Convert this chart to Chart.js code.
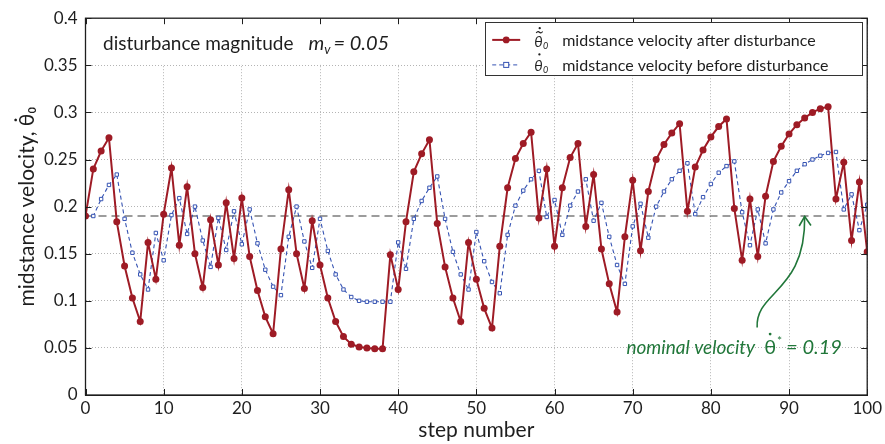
<!DOCTYPE html>
<html>
<head>
<meta charset="utf-8">
<script src="https://cdn.jsdelivr.net/npm/chart.js@4.4.1/dist/chart.umd.min.js"></script>
<style>
  html, body { margin: 0; padding: 0; background: #ffffff; }
  #wrap { width: 885px; height: 444px; }
</style>
</head>
<body>
<div id="wrap"><canvas id="c" width="885" height="444"></canvas></div>
<script>
// ---------------- data ----------------
const steps = [0,1,2,3,4,5,6,7,8,9,10,11,12,13,14,15,16,17,18,19,20,
  21,22,23,24,25,26,27,28,29,30,31,32,33,34,35,36,37,38,39,40,
  41,42,43,44,45,46,47,48,49,50,51,52,53,54,55,56,57,58,59,60,
  61,62,63,64,65,66,67,68,69,70,71,72,73,74,75,76,77,78,79,80,
  81,82,83,84,85,86,87,88,89,90,91,92,93,94,95,96,97,98,99,100];

const afterDisturbance = [0.190,0.240,0.259,0.273,0.184,0.137,0.103,0.078,0.162,0.123,
  0.192,0.241,0.159,0.221,0.150,0.114,0.186,0.138,0.204,0.145,
  0.209,0.147,0.111,0.083,0.065,0.155,0.218,0.150,0.113,0.185,
  0.138,0.103,0.078,0.062,0.054,0.051,0.050,0.049,0.049,0.149,
  0.112,0.184,0.237,0.256,0.271,0.182,0.136,0.103,0.078,0.162,
  0.123,0.092,0.071,0.158,0.220,0.251,0.267,0.279,0.188,0.240,
  0.158,0.220,0.252,0.267,0.179,0.234,0.155,0.118,0.088,0.168,
  0.228,0.153,0.216,0.250,0.266,0.278,0.288,0.195,0.242,0.260,
  0.274,0.285,0.293,0.198,0.143,0.208,0.147,0.211,0.248,0.264,
  0.277,0.287,0.294,0.300,0.304,0.306,0.208,0.247,0.164,0.226,
  0.152];

const beforeDisturbance = [0.190,0.190,0.208,0.223,0.234,0.187,0.151,0.128,0.112,0.172,
  0.143,0.191,0.209,0.171,0.200,0.164,0.136,0.188,0.154,0.195,
  0.160,0.197,0.161,0.133,0.115,0.106,0.168,0.200,0.163,0.135,
  0.187,0.153,0.128,0.112,0.104,0.100,0.099,0.099,0.099,0.099,
  0.162,0.134,0.187,0.206,0.220,0.232,0.187,0.152,0.128,0.112,
  0.173,0.142,0.120,0.108,0.170,0.201,0.217,0.229,0.238,0.189,
  0.207,0.170,0.201,0.216,0.229,0.185,0.204,0.168,0.138,0.118,
  0.179,0.203,0.167,0.200,0.216,0.229,0.238,0.246,0.192,0.210,
  0.224,0.236,0.243,0.248,0.194,0.159,0.197,0.161,0.197,0.215,
  0.227,0.238,0.245,0.250,0.254,0.257,0.258,0.197,0.213,0.175,
  0.202];

const nominalVelocity = 0.19;
const nominalSpan = [0, 100];

const xTickValues = [0,10,20,30,40,50,60,70,80,90,100];
const xTickLabels = ['0','10','20','30','40','50','60','70','80','90','100'];
const yTickValues = [0,0.05,0.1,0.15,0.2,0.25,0.3,0.35,0.4];
const yTickLabels = ['0','0.05','0.1','0.15','0.2','0.25','0.3','0.35','0.4'];

const legendAfter = 'midstance velocity after disturbance';
const legendBefore = 'midstance velocity before disturbance';
const xTitle = 'step number';
const yTitle = 'midstance velocity, \u03B8\u0307\u2080';
const noteLeft = 'disturbance magnitude';
const noteNominal = 'nominal velocity';

// ---------------- styling ----------------
const FONT = 'Lato, "Open Sans", "Noto Sans", "DejaVu Sans", sans-serif';
const RED = '#9e1b25';
const BLUE = '#3553b3';
const GREEN = '#21773a';
const INK = '#1e1e1e';

const afterPts = steps.map((s, i) => ({ x: s, y: afterDisturbance[i] }));
const beforePts = steps.map((s, i) => ({ x: s, y: beforeDisturbance[i] }));
const nominalPts = nominalSpan.map(s => ({ x: s, y: nominalVelocity }));

function drawTheta(ctx, x, base, size, tilde, color) {
  ctx.save();
  ctx.fillStyle = color; ctx.strokeStyle = color;
  ctx.textBaseline = 'alphabetic'; ctx.textAlign = 'left';
  ctx.font = `italic ${size}px ${FONT}`;
  ctx.fillText('\u03B8', x, base);
  const w = ctx.measureText('\u03B8').width;
  const cx = x + w * 0.62;
  if (tilde) {
    const ty = base - size * 0.95;
    ctx.lineWidth = 1.1;
    ctx.beginPath();
    ctx.moveTo(cx - 3.2, ty + 0.8);
    ctx.bezierCurveTo(cx - 1.8, ty - 1.6, cx - 0.4, ty - 0.4, cx, ty);
    ctx.bezierCurveTo(cx + 0.4, ty + 0.4, cx + 1.8, ty + 1.6, cx + 3.2, ty - 0.8);
    ctx.stroke();
    ctx.beginPath(); ctx.arc(cx + 0.3, base - size * 1.22, 1.15, 0, Math.PI * 2); ctx.fill();
  } else {
    ctx.beginPath(); ctx.arc(cx, base - size * 1.1, 1.15, 0, Math.PI * 2); ctx.fill();
  }
  ctx.font = `italic ${Math.round(size * 0.62)}px ${FONT}`;
  ctx.fillText('0', x + w + 0.5, base + 2.5);
  ctx.restore();
}

const decor = {
  id: 'decor',
  beforeDatasetsDraw(chart) {
    const { ctx, chartArea: a, scales: { y } } = chart;
    // the top band of the reference carries no vertical grid lines
    const yb = y.getPixelForValue(yTickValues[yTickValues.length - 2]);
    ctx.save();
    ctx.fillStyle = '#ffffff';
    ctx.fillRect(a.left + 1, a.top, a.right - a.left - 2, yb - a.top - 1);
    ctx.restore();
  },
  afterDraw(chart) {
    const { ctx, chartArea: a, scales: { x, y } } = chart;
    ctx.save();
    // box
    ctx.strokeStyle = INK; ctx.lineWidth = 1.3; ctx.setLineDash([]);
    ctx.strokeRect(a.left, a.top, a.right - a.left, a.bottom - a.top);
    // inward ticks
    ctx.lineWidth = 1;
    ctx.beginPath();
    xTickValues.forEach(v => {
      const px = Math.round(x.getPixelForValue(v)) + 0.5;
      ctx.moveTo(px, a.bottom); ctx.lineTo(px, a.bottom - 6);
      ctx.moveTo(px, a.top); ctx.lineTo(px, a.top + 6);
    });
    yTickValues.forEach(v => {
      const py = Math.round(y.getPixelForValue(v)) + 0.5;
      ctx.moveTo(a.left, py); ctx.lineTo(a.left + 6, py);
      ctx.moveTo(a.right, py); ctx.lineTo(a.right - 6, py);
    });
    ctx.stroke();

    // legend
    const W = 377, H = 53, L = a.right - 382, T = a.top + 4;
    ctx.fillStyle = '#ffffff'; ctx.fillRect(L, T, W, H);
    ctx.strokeStyle = '#333'; ctx.lineWidth = 1;
    ctx.strokeRect(Math.round(L) + 0.5, Math.round(T) + 0.5, W, H);
    const r1 = T + 17.7, r2 = T + 42.7;
    // red sample
    ctx.strokeStyle = RED; ctx.lineWidth = 2;
    ctx.beginPath(); ctx.moveTo(L + 7, r1); ctx.lineTo(L + 35, r1); ctx.stroke();
    ctx.fillStyle = RED; ctx.beginPath(); ctx.arc(L + 21, r1, 3.4, 0, Math.PI * 2); ctx.fill();
    // blue sample
    ctx.strokeStyle = BLUE; ctx.lineWidth = 1; ctx.setLineDash([4, 3]);
    ctx.beginPath(); ctx.moveTo(L + 7, r2); ctx.lineTo(L + 35, r2); ctx.stroke();
    ctx.setLineDash([]);
    ctx.fillStyle = '#fff'; ctx.fillRect(L + 18.5, r2 - 2.5, 5, 5);
    ctx.strokeRect(L + 18.5, r2 - 2.5, 5, 5);
    drawTheta(ctx, L + 49, r1 + 6.6, 15, true, INK);
    drawTheta(ctx, L + 49, r2 + 6.0, 15, false, INK);
    ctx.fillStyle = INK; ctx.font = `16px ${FONT}`; ctx.textBaseline = 'alphabetic';
    ctx.fillText(legendAfter, L + 77, r1 + 6.2);
    ctx.fillText(legendBefore, L + 77, r2 + 5.8);

    // top-left note
    let tx = a.left + 17.5; const tb = a.top + 32;
    ctx.font = `19px ${FONT}`; ctx.fillStyle = INK;
    ctx.fillText(noteLeft, tx, tb);
    tx += ctx.measureText(noteLeft).width + 15;
    ctx.font = `italic 20px ${FONT}`;
    ctx.fillText('m', tx, tb); tx += ctx.measureText('m').width;
    ctx.font = `italic 13px ${FONT}`;
    ctx.fillText('v', tx, tb + 3.5); tx += ctx.measureText('v').width + 3;
    ctx.font = `italic 20px ${FONT}`;
    ctx.fillText('= 0.05', tx, tb);

    // nominal velocity annotation
    const nx = x.getPixelForValue(69.2), nb = y.getPixelForValue(0.044);
    ctx.fillStyle = GREEN; ctx.font = `italic 19px ${FONT}`;
    ctx.fillText(noteNominal, nx, nb);
    let gx = nx + ctx.measureText(noteNominal).width + 9;
    drawThetaStar(ctx, gx, nb);

    // arrow
    const P0 = [x.getPixelForValue(85.92), y.getPixelForValue(0.0716)];
    const P1 = [x.getPixelForValue(85.67), y.getPixelForValue(0.1107)];
    const P2 = [x.getPixelForValue(92.17), y.getPixelForValue(0.1086)];
    const P3 = [x.getPixelForValue(92.0), y.getPixelForValue(nominalVelocity)];
    ctx.strokeStyle = GREEN; ctx.lineWidth = 1.6;
    ctx.beginPath(); ctx.moveTo(P0[0], P0[1]);
    ctx.bezierCurveTo(P1[0], P1[1], P2[0], P2[1], P3[0], P3[1]);
    ctx.stroke();
    ctx.beginPath();
    ctx.moveTo(P3[0] - 5.5, P3[1] + 10); ctx.lineTo(P3[0], P3[1] + 0.5); ctx.lineTo(P3[0] + 6.3, P3[1] + 9.5);
    ctx.stroke();
    ctx.restore();
  }
};

function drawThetaStar(ctx, x, base) {
  ctx.save();
  ctx.fillStyle = GREEN;
  ctx.font = `20px ${FONT}`;
  ctx.fillText('\u03B8', x, base);
  const w = ctx.measureText('\u03B8').width;
  ctx.beginPath(); ctx.arc(x + w * 0.5, base - 19.5, 1.4, 0, Math.PI * 2); ctx.fill();
  ctx.font = `12px ${FONT}`;
  ctx.fillText('*', x + w + 1, base - 9);
  ctx.font = `italic 20px ${FONT}`;
  ctx.fillText('= 0.19', x + w + 10, base);
  ctx.restore();
}

const gridOpts = { color: '#b4b4b4', lineWidth: 1, drawTicks: false };
const borderOpts = { display: true, dash: [1, 2], color: INK, width: 1 };

new Chart(document.getElementById('c'), {
  type: 'line',
  data: {
    datasets: [
      { label: legendAfter, data: afterPts, borderColor: RED, backgroundColor: RED,
        borderWidth: 2, pointRadius: 3.5, pointBackgroundColor: RED, pointBorderWidth: 0,
        tension: 0 },
      { label: legendBefore, data: beforePts, borderColor: BLUE, backgroundColor: '#ffffff',
        borderWidth: 1.1, borderDash: [4, 3], pointStyle: 'rect', pointRadius: 2.4,
        pointBackgroundColor: '#ffffff', pointBorderColor: BLUE, pointBorderWidth: 1, tension: 0 },
      { label: 'nominal', data: nominalPts, borderColor: '#3a3a3a', borderWidth: 1.2,
        borderDash: [8, 5], pointRadius: 0, tension: 0 }
    ]
  },
  options: {
    responsive: false,
    animation: false,
    devicePixelRatio: 1,
    layout: { padding: { left: 0, right: 14.5, top: 15, bottom: 0 } },
    plugins: { legend: { display: false }, tooltip: { enabled: false } },
    scales: {
      x: {
        type: 'linear', min: 0, max: 100,
        afterBuildTicks: s => { s.ticks = xTickValues.map(v => ({ value: v })); },
        afterFit: s => { s.height = 49; },
        ticks: { callback: (v, i) => xTickLabels[i], color: INK, padding: 3,
                 font: { family: FONT, size: 17 }, maxRotation: 0 },
        grid: gridOpts, border: borderOpts,
        title: { display: true, text: xTitle, color: INK, font: { family: FONT, size: 21 },
                 padding: { top: 0, bottom: 1 } }
      },
      y: {
        min: 0, max: 0.4,
        afterBuildTicks: s => { s.ticks = yTickValues.map(v => ({ value: v })); },
        afterFit: s => { s.width = 85.5; },
        ticks: { callback: (v, i) => yTickLabels[i], color: INK, padding: 8,
                 font: { family: FONT, size: 17 } },
        grid: gridOpts, border: borderOpts,
        title: { display: true, text: yTitle, color: INK, font: { family: FONT, size: 21 },
                 padding: { top: 15, bottom: 0 } }
      }
    }
  },
  plugins: [decor]
});
</script>
</body>
</html>
